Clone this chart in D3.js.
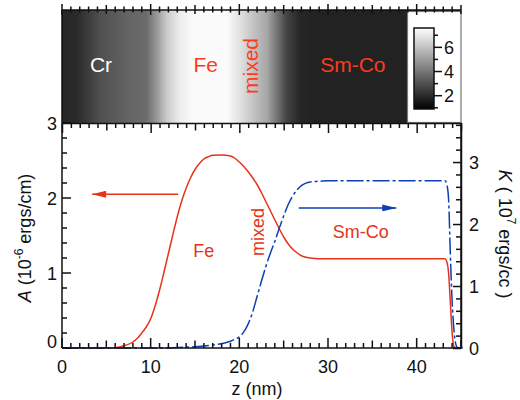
<!DOCTYPE html>
<html><head><meta charset="utf-8">
<script src="https://cdn.jsdelivr.net/npm/d3@7"></script>
<style>body{margin:0;background:#fff}text{font-family:"Liberation Sans",Arial,Helvetica,sans-serif}</style>
</head><body><svg id="c" width="520" height="400"></svg>
<script>
// ---- data ----
const heatZ   = [0, 1.7, 4.3, 8.0, 9.5, 10.7, 11.8, 13.3, 14.8, 18.6, 20.1, 21.6, 23.1, 24.2, 25.3, 26.8, 28.7, 45];
const heatVal = [1.9, 2.0, 3.0, 3.6, 3.7, 4.9, 6.2, 7.1, 7.5, 7.5, 6.8, 6.0, 5.3, 4.0, 2.7, 1.9, 1.8, 1.8];
const aZ = [0, 5, 6, 7, 8, 8.5, 9, 9.5, 10, 10.5, 11, 11.5, 12, 12.5, 13, 13.5, 14, 14.5, 15, 15.5, 16, 16.5, 17, 18, 19, 19.5, 20, 20.5, 21, 21.5, 22, 22.5, 23, 23.5, 24, 24.5, 25, 25.5, 26, 26.5, 27, 27.5, 28, 29, 43.2, 43.4, 43.6, 43.8, 44.0, 44.2, 44.4, 45];
const aVal = [0, 0, 0.005, 0.03, 0.08, 0.13, 0.2, 0.28, 0.39, 0.56, 0.77, 1.01, 1.26, 1.51, 1.75, 1.96, 2.13, 2.27, 2.38, 2.46, 2.52, 2.55, 2.57, 2.575, 2.56, 2.53, 2.48, 2.42, 2.35, 2.27, 2.18, 2.07, 1.95, 1.83, 1.71, 1.59, 1.48, 1.39, 1.32, 1.27, 1.23, 1.21, 1.2, 1.19, 1.19, 1.15, 1.0, 0.6, 0.2, 0.02, 0, 0];
const kZ = [0, 12, 13, 15, 17, 18, 19, 19.5, 20, 20.5, 21, 21.5, 22, 22.5, 23, 23.5, 24, 24.5, 25, 25.5, 26, 26.5, 27, 27.5, 28, 29, 30, 43.2, 43.4, 43.6, 43.8, 44.0, 44.2, 44.4, 44.6, 45.2];
const kVal = [0, 0, 0.01, 0.02, 0.05, 0.07, 0.11, 0.14, 0.18, 0.26, 0.39, 0.58, 0.83, 1.08, 1.32, 1.53, 1.72, 1.93, 2.13, 2.31, 2.45, 2.55, 2.62, 2.66, 2.68, 2.69, 2.7, 2.7, 2.64, 2.4, 1.5, 0.75, 0.3, 0.07, 0.01, 0];
const xTickLabels = [0, 10, 20, 30, 40];
const aTickLabels = [0, 1, 2, 3];
const kTickLabels = [0, 1, 2, 3];
const cbTickLabels = [2, 4, 6];
const cbMinor = [1, 3, 5, 7];
const heatLabels = [{t:"Cr", z:4.4, c:"#ffffff"}, {t:"Fe", z:16.2, c:"#ff3a1c"}, {t:"Sm-Co", z:32.8, c:"#ff3a1c"}];

// ---- scales ----
const svg = d3.select("#c");
const x = d3.scaleLinear().domain([0, 45]).range([62, 461]);
const yA = d3.scaleLinear().domain([0, 3]).range([348, 123]);
const yK = d3.scaleLinear().domain([0, 3.63]).range([348, 123]);
const cb = d3.scaleLinear().domain([0.9, 7.6]).range([109, 28]);
const gray = d3.scaleLinear().domain([0.9, 7.6]).range(["#000000", "#ffffff"]);
const RED = "#e8321a", BLUE = "#0b3fb3", INK = "#111111";

const zMinor = d3.range(0, 46).filter(z => z % 5 !== 0);
const zMed = [5, 15, 25, 35, 45];
const zMaj = [0, 10, 20, 30, 40];
const aMinor = d3.range(0, 16).filter(i => i % 5 !== 0).map(i => i / 5);
const kMinor = d3.range(0, 19).filter(i => i % 5 !== 0).map(i => i / 5);

const defs = svg.append("defs");
const hg = defs.append("linearGradient").attr("id", "hg").attr("gradientUnits", "userSpaceOnUse")
  .attr("x1", x(0)).attr("x2", x(45)).attr("y1", 0).attr("y2", 0);
hg.selectAll("stop").data(heatZ).join("stop").attr("offset", z => z / 45).attr("stop-color", (z, i) => gray(heatVal[i]));
const cg = defs.append("linearGradient").attr("id", "cg").attr("x1", 0).attr("x2", 0).attr("y1", 1).attr("y2", 0);
cg.append("stop").attr("offset", 0).attr("stop-color", gray(0.9));
cg.append("stop").attr("offset", 1).attr("stop-color", gray(7.6));
const ah = (id, col) => defs.append("marker").attr("id", id).attr("viewBox", "0 0 16 8").attr("refX", 16).attr("refY", 4)
  .attr("markerWidth", 15).attr("markerHeight", 7).attr("markerUnits", "userSpaceOnUse").attr("orient", "auto")
  .append("path").attr("d", "M0,0L16,4L0,8Z").attr("fill", col);
ah("ar", RED); ah("ab", BLUE);

// ---- top heatmap panel ----
svg.append("rect").attr("x", x(0)).attr("y", 10).attr("width", x(45) - x(0)).attr("height", 113).attr("fill", "url(#hg)");
svg.append("rect").attr("x", 407.5).attr("y", 11.5).attr("width", 53.5).attr("height", 111).attr("fill", "#fff")
  .attr("stroke", "#777").attr("stroke-width", 1.2);
svg.append("rect").attr("x", 414).attr("y", cb(7.6)).attr("width", 20).attr("height", cb(0.9) - cb(7.6))
  .attr("fill", "url(#cg)").attr("stroke", INK).attr("stroke-width", 1.5);

// colorbar ticks: individual lines via join
svg.append("g").selectAll("line").data(cbTickLabels.concat(cbMinor)).join("line")
  .attr("x1", 434).attr("x2", d => cbTickLabels.includes(d) ? 442 : 438)
  .attr("y1", d => cb(d)).attr("y2", d => cb(d)).attr("stroke", INK).attr("stroke-width", 1.5);
svg.selectAll(".cbl").data(cbTickLabels).join("text").attr("x", 444).attr("y", d => cb(d) + 6.5)
  .attr("font-size", 18).attr("fill", INK).text(d => d);

svg.append("line").attr("x1", x(0)).attr("x2", x(45)).attr("y1", 10).attr("y2", 10).attr("stroke", INK).attr("stroke-width", 1.5);
svg.append("line").attr("x1", x(0)).attr("x2", x(0)).attr("y1", 10).attr("y2", 123).attr("stroke", INK).attr("stroke-width", 1.5);

// top axis ticks (straddle the line): filled rects
const tickLen = z => (z % 10 === 0 ? 2 : (z % 5 === 0 ? 1 : 0));
const allZ = d3.range(0, 46);
svg.append("g").selectAll("rect").data(allZ).join("rect")
  .attr("x", d => x(d) - 0.75).attr("y", d => [6.5, 5, 4][tickLen(d)]).attr("width", 1.5)
  .attr("height", d => [6, 9, 11][tickLen(d)]).attr("fill", INK);

// bottom of heatmap ticks (pointing down): d3 axis
const axB = svg.append("g").attr("transform", "translate(0,123)")
  .call(d3.axisBottom(x).tickValues(allZ).tickSizeOuter(0).tickFormat(() => ""));
axB.selectAll(".tick line").attr("y2", d => [5, 7.5, 10][tickLen(d)]).attr("stroke", INK).attr("stroke-width", 1.5);
axB.select(".domain").attr("stroke", INK).attr("stroke-width", 1.5);

svg.selectAll(".hl").data(heatLabels).join("text").attr("x", d => x(d.z)).attr("y", 72)
  .attr("text-anchor", "middle").attr("font-size", 21).attr("fill", d => d.c).text(d => d.t);
svg.append("text").attr("transform", `translate(${x(22.15)},66) rotate(-90)`).attr("text-anchor", "middle")
  .attr("font-size", 21).attr("fill", "#ff3a1c").text("mixed");

// ---- bottom panel ----
svg.append("path").datum(aZ.map((z, i) => [z, aVal[i]])).attr("fill", "none").attr("stroke", RED).attr("stroke-width", 1.5)
  .attr("d", d3.line().x(d => x(d[0])).y(d => yA(d[1])).curve(d3.curveMonotoneX));
svg.append("path").datum(kZ.map((z, i) => [z, kVal[i]])).attr("fill", "none").attr("stroke", BLUE).attr("stroke-width", 1.5)
  .attr("stroke-dasharray", "17,3,3,3")
  .attr("d", d3.line().x(d => x(d[0])).y(d => yK(d[1])).curve(d3.curveMonotoneX));

svg.append("line").attr("x1", x(0)).attr("x2", x(45)).attr("y1", 348).attr("y2", 348).attr("stroke", INK).attr("stroke-width", 1.5);
svg.append("line").attr("x1", x(0)).attr("x2", x(0)).attr("y1", 123).attr("y2", 348).attr("stroke", INK).attr("stroke-width", 1.5);
svg.append("line").attr("x1", x(45)).attr("x2", x(45)).attr("y1", 123).attr("y2", 348).attr("stroke", INK).attr("stroke-width", 1.5);

// bottom axis ticks (pointing up): lines via join
svg.append("g").selectAll("line").data(allZ).join("line")
  .attr("x1", d => x(d)).attr("x2", d => x(d)).attr("y1", 348).attr("y2", d => 348 - [5, 7.5, 10][tickLen(d)])
  .attr("stroke", INK).attr("stroke-width", 1.5);

// left axis ticks: one path
svg.append("path").attr("fill", "none").attr("stroke", INK).attr("stroke-width", 1.5)
  .attr("d", d3.range(0, 16).map(i => `M${x(0)},${yA(i / 5)}h${i % 5 === 0 ? 9 : 5}`).join(""));

// right axis ticks: d3 axis
const axR = svg.append("g").attr("transform", `translate(${x(45)},0)`)
  .call(d3.axisLeft(yK).tickValues(d3.range(0, 19).map(i => i / 5)).tickSizeOuter(0).tickFormat(() => ""));
axR.selectAll(".tick line").attr("x2", (d, i) => i % 5 === 0 ? -8 : -5).attr("stroke", INK).attr("stroke-width", 1.5);
axR.select(".domain").attr("stroke", INK).attr("stroke-width", 1.5);

svg.selectAll(".xl").data(xTickLabels).join("text").attr("x", d => x(d)).attr("y", 373)
  .attr("text-anchor", "middle").attr("font-size", 18).attr("fill", INK).text(d => d);
svg.selectAll(".al").data(aTickLabels).join("text").attr("x", 57).attr("y", d => yA(d) + 6.5 - (d === 0 ? 7 : 0))
  .attr("text-anchor", "end").attr("font-size", 18).attr("fill", INK).text(d => d);
svg.selectAll(".kl").data(kTickLabels).join("text").attr("x", 469).attr("y", d => yK(d) + 6.5)
  .attr("font-size", 18).attr("fill", INK).text(d => d);

svg.append("text").attr("x", 257).attr("y", 395).attr("text-anchor", "middle").attr("font-size", 18).attr("fill", INK).text("z (nm)");

const lt = svg.append("text").attr("transform", "translate(31,238) rotate(-90)").attr("text-anchor", "middle").attr("font-size", 18).attr("fill", INK);
lt.append("tspan").attr("font-style", "italic").text("A");
lt.append("tspan").text("  (10");
lt.append("tspan").attr("font-size", 12).attr("dy", -8).text("-6");
lt.append("tspan").attr("dy", 8).text(" ergs/cm)");

const rt = svg.append("text").attr("transform", "translate(499,234) rotate(90)").attr("text-anchor", "middle").attr("font-size", 18).attr("fill", INK);
rt.append("tspan").attr("font-style", "italic").text("K");
rt.append("tspan").text(" ( 10");
rt.append("tspan").attr("font-size", 12).attr("dy", -8).text("7");
rt.append("tspan").attr("dy", 8).text(" ergs/cc )");

svg.append("line").attr("x1", x(13.1)).attr("x2", x(3.4)).attr("y1", yA(2.05)).attr("y2", yA(2.05))
  .attr("stroke", RED).attr("stroke-width", 1.5).attr("marker-end", "url(#ar)");
svg.append("line").attr("x1", x(26.7)).attr("x2", x(37.7)).attr("y1", yK(2.26)).attr("y2", yK(2.26))
  .attr("stroke", BLUE).attr("stroke-width", 1.5).attr("marker-end", "url(#ab)");
svg.append("text").attr("x", x(16.0)).attr("y", 257).attr("text-anchor", "middle").attr("font-size", 18).attr("fill", RED).text("Fe");
svg.append("text").attr("x", x(33.7)).attr("y", 238).attr("text-anchor", "middle").attr("font-size", 18).attr("fill", RED).text("Sm-Co");
svg.append("text").attr("transform", `translate(${x(22.8)},232) rotate(-90)`).attr("text-anchor", "middle")
  .attr("font-size", 18).attr("fill", RED).text("mixed");
</script></body></html>
